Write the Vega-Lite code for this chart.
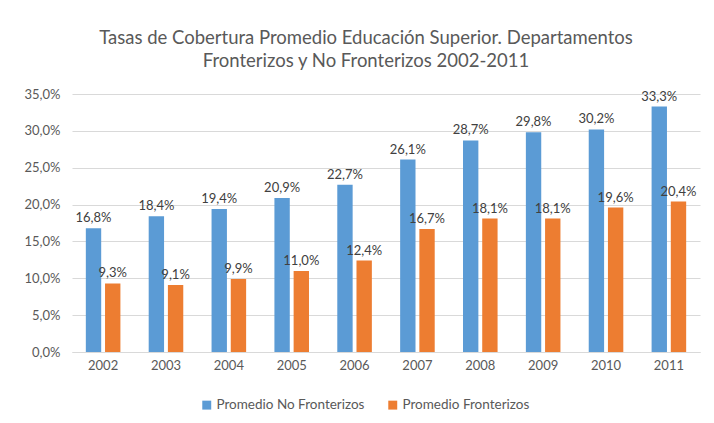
{
  "$schema": "https://vega.github.io/schema/vega-lite/v6.json",
  "width": 628,
  "height": 258,
  "autosize": {"type": "none"},
  "padding": {"left": 72, "top": 94, "right": 14, "bottom": 71},
  "background": "white",
  "config": {
    "locale": {"number": {"decimal": ",", "thousands": ".", "grouping": [3], "currency": ["", " €"]}},
    "font": "Lato",
    "view": {"stroke": null}
  },
  "title": {
    "text": ["Tasas de Cobertura Promedio Educación Superior. Departamentos", "Fronterizos y No Fronterizos 2002-2011"],
    "fontSize": 18.5,
    "fontWeight": "normal",
    "color": "#595959",
    "anchor": "middle",
    "dx": -20,
    "offset": 18,
    "lineHeight": 23
  },
  "data": {
    "values": [
      {"year": "2002", "serie": "Promedio No Fronterizos", "valor": 0.168},
      {"year": "2003", "serie": "Promedio No Fronterizos", "valor": 0.184},
      {"year": "2004", "serie": "Promedio No Fronterizos", "valor": 0.194},
      {"year": "2005", "serie": "Promedio No Fronterizos", "valor": 0.209},
      {"year": "2006", "serie": "Promedio No Fronterizos", "valor": 0.227},
      {"year": "2007", "serie": "Promedio No Fronterizos", "valor": 0.261},
      {"year": "2008", "serie": "Promedio No Fronterizos", "valor": 0.287},
      {"year": "2009", "serie": "Promedio No Fronterizos", "valor": 0.298},
      {"year": "2010", "serie": "Promedio No Fronterizos", "valor": 0.302},
      {"year": "2011", "serie": "Promedio No Fronterizos", "valor": 0.333},
      {"year": "2002", "serie": "Promedio Fronterizos", "valor": 0.093},
      {"year": "2003", "serie": "Promedio Fronterizos", "valor": 0.091},
      {"year": "2004", "serie": "Promedio Fronterizos", "valor": 0.099},
      {"year": "2005", "serie": "Promedio Fronterizos", "valor": 0.110},
      {"year": "2006", "serie": "Promedio Fronterizos", "valor": 0.124},
      {"year": "2007", "serie": "Promedio Fronterizos", "valor": 0.167},
      {"year": "2008", "serie": "Promedio Fronterizos", "valor": 0.181},
      {"year": "2009", "serie": "Promedio Fronterizos", "valor": 0.181},
      {"year": "2010", "serie": "Promedio Fronterizos", "valor": 0.196},
      {"year": "2011", "serie": "Promedio Fronterizos", "valor": 0.204}
    ]
  },
  "encoding": {
    "x": {
      "field": "year", "type": "nominal",
      "scale": {"paddingInner": 0.45, "paddingOuter": 0.22},
      "axis": {"title": null, "labelAngle": 0, "ticks": false, "domainColor": "#d9d9d9", "labelColor": "#595959", "labelFontSize": 13, "labelPadding": 7, "grid": false}
    },
    "xOffset": {
      "field": "serie", "type": "nominal",
      "sort": ["Promedio No Fronterizos", "Promedio Fronterizos"],
      "scale": {"paddingInner": 0.2}
    },
    "y": {
      "field": "valor", "type": "quantitative",
      "scale": {"domain": [0, 0.35], "nice": false},
      "axis": {"title": null, "format": ".1%", "values": [0, 0.05, 0.1, 0.15, 0.2, 0.25, 0.3, 0.35], "domain": false, "ticks": false, "gridColor": "#d9d9d9", "labelColor": "#595959", "labelFontSize": 13, "labelPadding": 12}
    }
  },
  "layer": [
    {
      "mark": {"type": "bar"},
      "encoding": {
        "color": {
          "field": "serie", "type": "nominal",
          "sort": ["Promedio No Fronterizos", "Promedio Fronterizos"],
          "scale": {"domain": ["Promedio No Fronterizos", "Promedio Fronterizos"], "range": ["#5B9BD5", "#ED7D31"]},
          "legend": {
            "title": null, "orient": "none", "direction": "horizontal",
            "legendX": 128, "legendY": 304,
            "symbolType": "square", "symbolSize": 80, "symbolStrokeWidth": 0,
            "labelColor": "#595959", "labelFontSize": 13.5, "columnPadding": 21, "labelOffset": 3, "labelLimit": 300
          }
        }
      }
    },
    {
      "mark": {"type": "text", "dy": -10, "fontSize": 13, "color": "#404040"},
      "encoding": {
        "text": {"field": "valor", "type": "quantitative", "format": ".1%"}
      }
    }
  ]
}
